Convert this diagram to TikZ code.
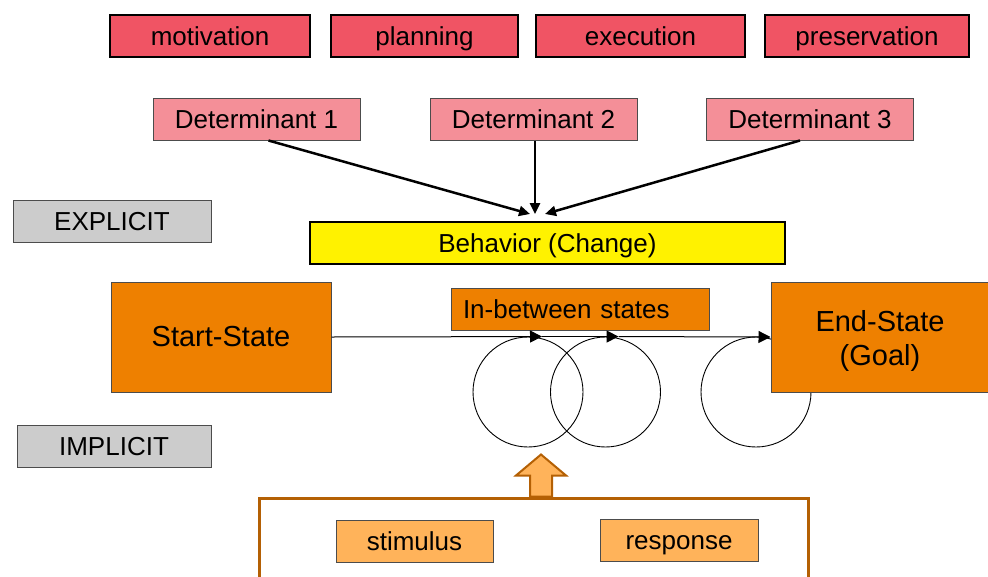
\documentclass[tikz,border=0pt]{standalone}
\usepackage{fontspec}
\setmainfont{Liberation Sans}
\usetikzlibrary{arrows.meta, calc}

\definecolor{phasered}{RGB}{240,84,100}
\definecolor{detpink}{RGB}{244,143,152}
\definecolor{stateorange}{RGB}{238,128,0}
\definecolor{srorange}{RGB}{255,179,90}
\definecolor{framebrown}{RGB}{180,96,4}
\definecolor{levelgray}{RGB}{204,204,204}

\begin{document}
\begin{tikzpicture}[x=1pt, y=-1pt,
    box/.style={draw=black!70, line width=1pt, inner sep=0pt, minimum height=42,
        font=\fontsize{26}{31}\selectfont, text height=24.5pt, text depth=6pt},
    phase/.style={box, fill=phasered, draw=black, line width=2.5pt},
    determinant/.style={box, fill=detpink, minimum width=207},
    level/.style={box, fill=levelgray},
    state/.style={draw=black!70, line width=1pt, inner sep=0pt, fill=stateorange,
        minimum width=220, minimum height=110, align=center,
        font=\fontsize{29}{34}\selectfont},
    srbox/.style={box, fill=srorange, minimum width=157},
    loop/.style={circle, draw, line width=0.9pt, minimum size=110, inner sep=0pt},
    infl/.style={line width=2.5pt, -{Triangle[length=11pt,width=10pt]}},
    flow/.style={line width=1pt, -{Triangle[length=12pt,width=12pt]}}
]
    % Page frame
    \clip (0,0) rectangle (988,576);

    % Phases of the action
    \foreach \name/\x/\w/\txt in {motiv/210/200/motivation, plan/424.5/187/planning,
        exec/640.5/209/execution, pres/867/204/preservation}
        \node[phase, minimum width=\w] (\name) at (\x,36) {\txt};

    % Determinants and the behavior they act on
    \foreach \i/\x in {1/256.5, 2/533.5, 3/810}
        \node[determinant] (det\i) at (\x,119) {Determinant \i};
    \node[box, fill=yellow, draw=black, line width=2.5pt, minimum width=475]
        (behavior) at (547.5,243) {Behavior (Change)};
    \coordinate (focus) at (537,214);
    \foreach \i/\sx/\dx in {1/12/-7, 2/1.5/-2, 3/-10/8}
        \draw[infl] ([xshift=\sx]det\i.south) -- ([xshift=\dx]focus);

    % Levels
    \node[level, minimum width=198] (explicit) at (112,221.5) {EXPLICIT};
    \node[level, minimum width=194] (implicit) at (114,446.5) {IMPLICIT};

    % States and the loops between them
    \node[state] (start) at (221,337) {Start-State};
    \node[box, fill=stateorange, minimum width=258, text width=234, inner xsep=12pt,
        align=left] (between) at (580,309) {In-between states};
    \node[loop] (loop1) at (528,392) {};
    \node[loop] (loop2) at (605.5,392) {};
    \node[loop] (loop3) at (756,392) {};
    \node[state, minimum width=218, label={[align=center, yshift=-4pt,
        font=\fontsize{29}{34}\selectfont]center:End-State\\(Goal)}]
        (end) at (880,337) {};
    \draw[flow] (start.east) -- ([xshift=14]loop1.north);
    \draw[flow] ([xshift=14]loop1.north) -- ([xshift=13]loop2.north);
    \draw[flow] ([xshift=13]loop2.north) -- (end.west);

    % Stimulus and response feeding the loops
    \node[draw=framebrown, line width=3pt, minimum width=549, minimum height=90]
        (frame) at (533.5,543) {};
    \node[srbox] (stimulus) at (414.5,541) {stimulus};
    \node[srbox, minimum width=158] (response) at (679,540) {response};
    \draw[fill=srorange, draw=framebrown, line width=2pt]
        ($(frame.north)+(-3.5,0)$) -- ++(0,-21) -- ++(-14,0) -- ++(25,-21)
        -- ++(25,21) -- ++(-14,0) -- ++(0,21) -- cycle;
\end{tikzpicture}
\end{document}
